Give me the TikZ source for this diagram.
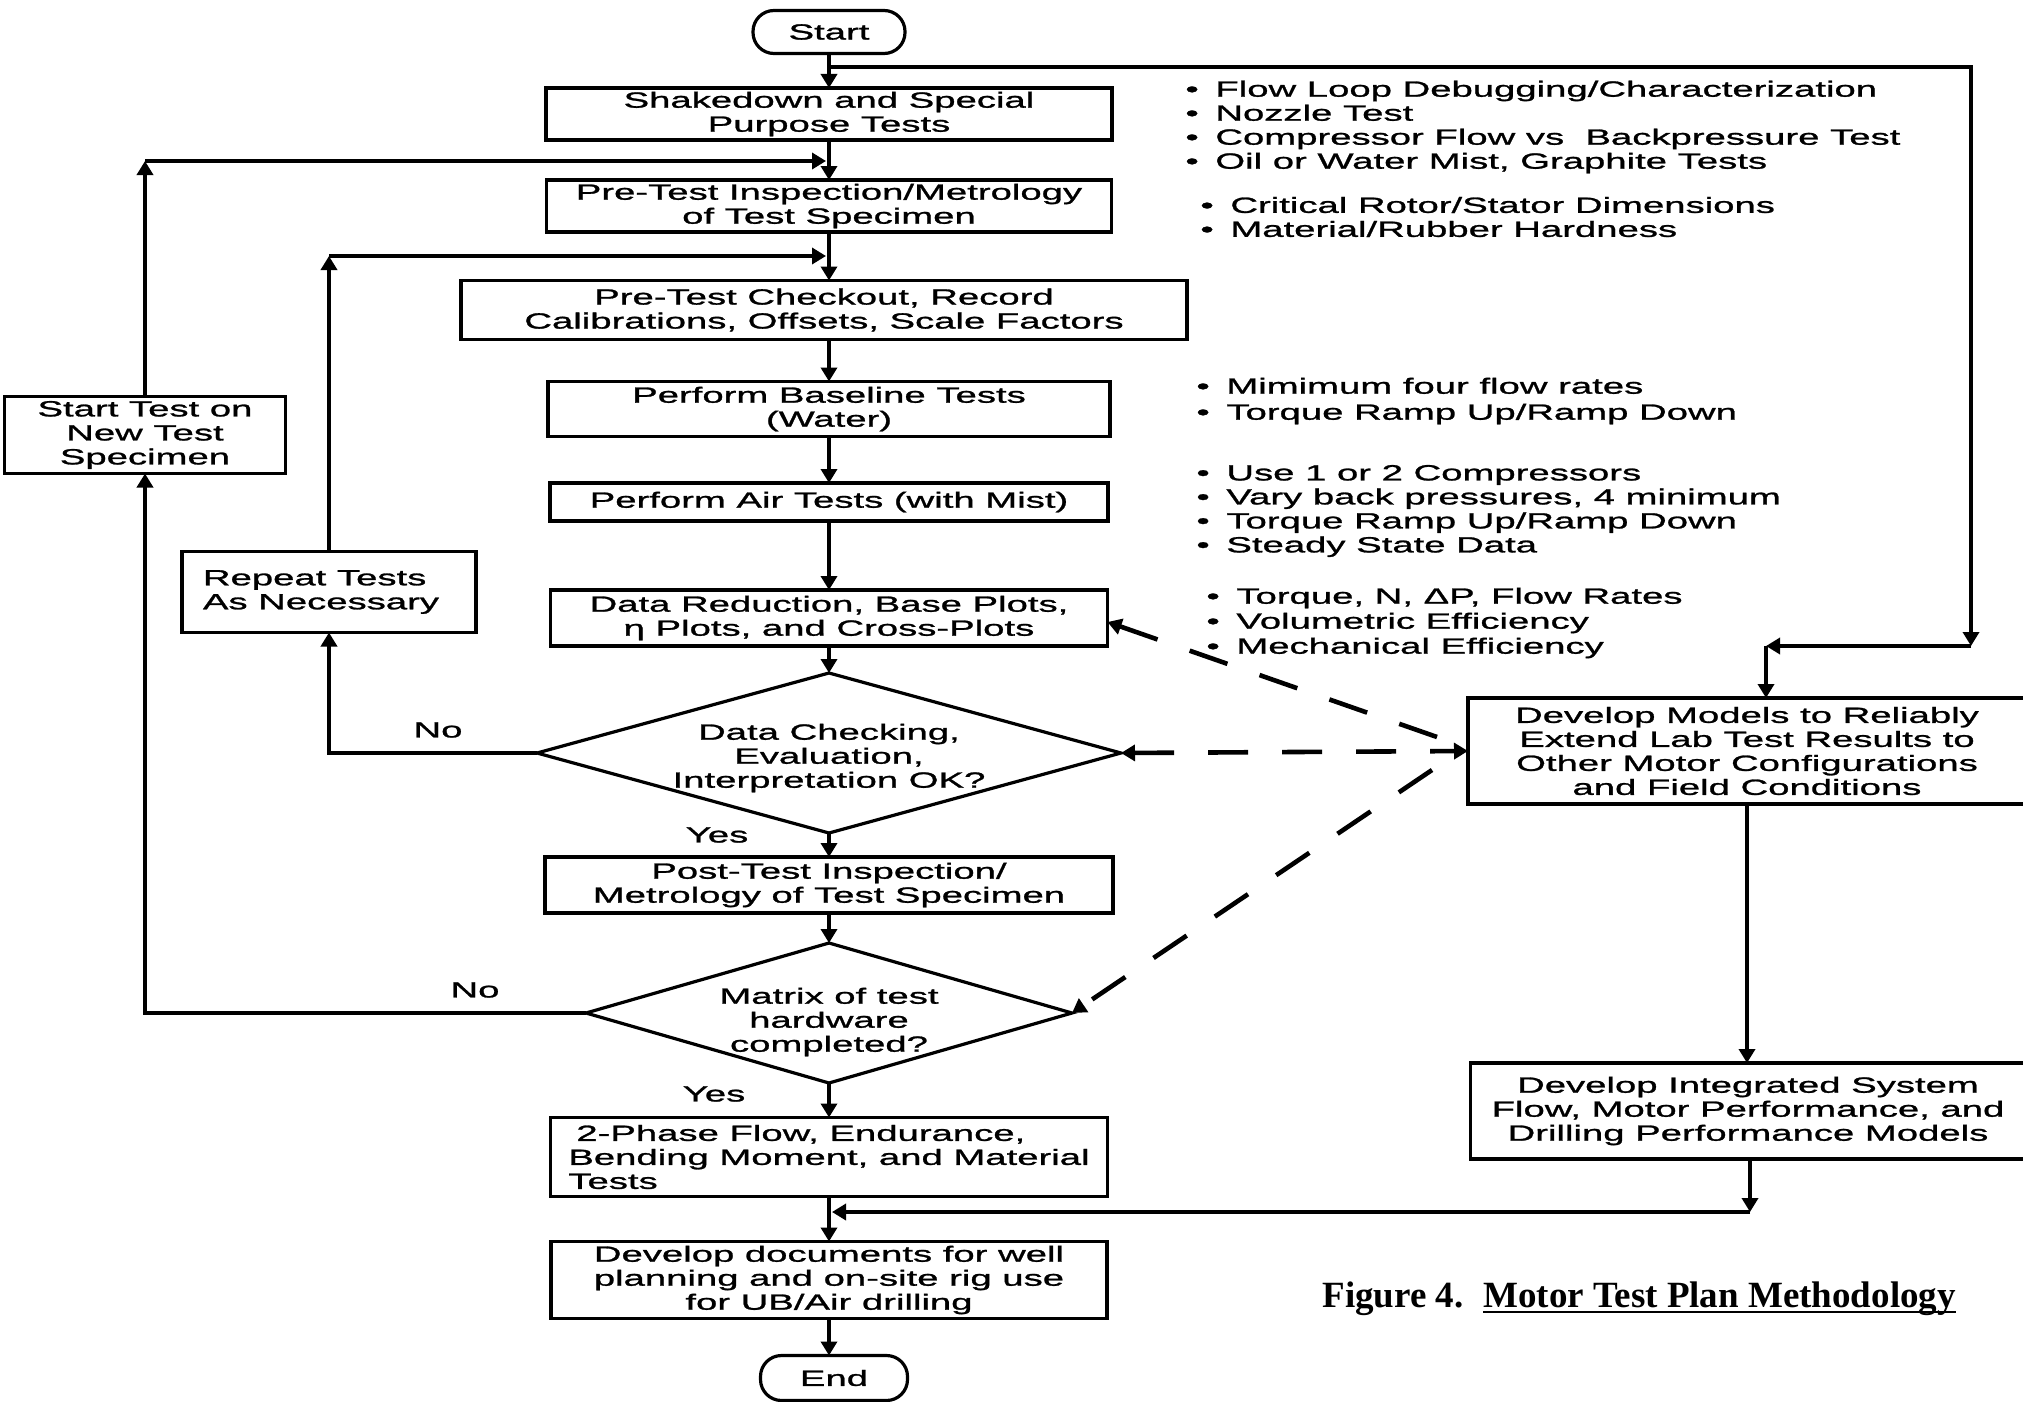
\documentclass[tikz,border=0pt]{standalone}
\usepackage{fontspec}
\setmainfont{Liberation Sans}[FakeStretch=1.74,FakeBold=1.2]
\newfontfamily\capfont{Liberation Serif}
\usetikzlibrary{shapes.geometric,arrows.meta}
\newcommand\bl[1]{\makebox[15pt][l]{•}#1}
\tikzset{
  txt/.style={font=\fontsize{11}{12}\selectfont},
  box/.style={txt, draw, line width=1.6pt, inner sep=0pt, outer sep=0pt, align=center},
  term/.style={box, rounded corners=10.5pt},
  dia/.style={draw, diamond, line width=1.6pt, inner sep=0pt, outer sep=0pt},
  tip/.tip={Triangle[width=8pt,length=7pt]},
  flow/.style={line width=2.1pt, -tip},
  dashline/.style={line width=2.3pt, dash pattern=on 20pt off 17pt},
  lbl/.style={txt, inner sep=0pt},
  bul/.style={txt, anchor=west, align=left, inner sep=0pt},
}
\begin{document}
\begin{tikzpicture}[x=0.5pt, y=-0.5pt]
\clip (0,0) rectangle (2023,1402);
\fill[white] (0,0) rectangle (2023,1402);

% main column
\node[term, minimum width=76pt, minimum height=21.5pt] (start) at (829,32) {Start};
\node[box, minimum width=283pt, minimum height=26pt] (shake) at (829,114) {Shakedown and Special\\Purpose Tests};
\node[box, minimum width=282.5pt, minimum height=26pt] (preinsp) at (829,206) {Pre-Test Inspection/Metrology\\of Test Specimen};
\node[box, minimum width=363pt, minimum height=29.5pt] (checkout) at (824,310) {Pre-Test Checkout, Record\\Calibrations, Offsets, Scale Factors};
\node[box, minimum width=281pt, minimum height=27.5pt] (baseline) at (829,409) {Perform Baseline Tests\\(Water)};
\node[box, minimum width=279pt, minimum height=19pt] (air) at (829,502) {Perform Air Tests (with Mist)};
\node[box, minimum width=278.5pt, minimum height=28pt] (datared) at (829,618) {Data Reduction, Base Plots,\\η Plots, and Cross-Plots};
\node[dia, minimum width=292pt, minimum height=80pt] (d1) at (829,753) {};
\node[lbl, align=center] (d1t) at (829,758) {Data Checking,\\Evaluation,\\Interpretation OK?};
\node[box, minimum width=284pt, minimum height=28pt] (postt) at (829,885) {Post-Test Inspection/\\Metrology of Test Specimen};
\node[dia, minimum width=243pt, minimum height=70pt] (d2) at (829,1013) {};
\node[lbl, align=center] (d2t) at (829,1022) {Matrix of test\\hardware\\completed?};
\node[box, minimum width=278.5pt, minimum height=39.5pt, align=left] (phase) at (829,1157) {\hspace*{4pt}2-Phase Flow, Endurance,\\Bending Moment, and Material\\Tests\hspace*{200pt}};
\node[box, minimum width=278pt, minimum height=38.5pt] (docs) at (829,1280) {Develop documents for well\\planning and on-site rig use\\for UB/Air drilling};
\node[term, minimum width=73.5pt, minimum height=22.5pt] (end) at (834,1378) {End};

% left boxes
\node[box, minimum width=140.5pt, minimum height=38.5pt] (stt) at (145,435) {Start Test on\\New Test\\Specimen};
\node[box, minimum width=147pt, minimum height=40.5pt, align=left] (rep) at (329,592) {Repeat Tests\\As Necessary\hspace*{8pt}};

% right boxes
\node[box, minimum width=279pt, minimum height=53pt] (dm) at (1747,751) {Develop Models to Reliably\\Extend Lab Test Results to\\Other Motor Configurations\\and Field Conditions};
\node[box, minimum width=277.5pt, minimum height=48pt] (integ) at (1748,1111) {Develop Integrated System\\Flow, Motor Performance, and\\Drilling Performance Models};

% main flow
\draw[flow] (start) -- (shake);
\draw[flow] (shake) -- (preinsp);
\draw[flow] (preinsp.south) -- (preinsp.south |- checkout.north);
\draw[flow] (checkout.south -| baseline.north) -- (baseline.north);
\draw[flow] (baseline) -- (air);
\draw[flow] (air) -- (datared);
\draw[flow] (datared) -- (d1);
\draw[flow] (d1) -- (postt);
\draw[flow] (postt) -- (d2);
\draw[flow] (d2) -- (phase);
\draw[flow] (phase) -- (docs);
\draw[flow] (docs.south) -- (docs.south |- end.north);

% right path
\coordinate (br) at (829,67);
\coordinate (rtop) at (1971,67);
\coordinate (rcorner) at (1971,646);
\coordinate (rleft) at (1766,646);
\draw[flow] (br) -- (rtop) -- (rcorner);
\draw[flow] (rcorner) -- (rleft);
\draw[flow] (rleft) -- (rleft |- dm.north);
\draw[flow] (dm.south) -- (dm.south |- integ.north);
\coordinate (bcorner) at (1750,1212);
\coordinate (bjoin) at (832,1212);
\draw[flow] (integ.south -| bcorner) -- (bcorner);
\draw[flow] (bcorner) -- (bjoin);

% left loops
\coordinate (l1) at (145,161);
\coordinate (l1e) at (826,161);
\draw[flow] (stt.north) -- (l1);
\draw[flow] (l1) -- (l1e);
\coordinate (l2) at (329,256);
\coordinate (l2e) at (826,256);
\draw[flow] (rep.north) -- (l2);
\draw[flow] (l2) -- (l2e);
\draw[flow] (d1.west) -- (d1.west -| rep.south) -- (rep.south);
\draw[flow] (d2.west) -- (d2.west -| stt.south) -- (stt.south);

% labels
\node[lbl] (no1) at (438,730) {No};
\node[lbl] (yes1) at (717,835) {Yes};
\node[lbl] (no2) at (475,990) {No};
\node[lbl] (yes2) at (714,1094) {Yes};

% dashed links
\coordinate (da1) at (1437,737);
\coordinate (da3) at (1432,770);
\draw[dashline, -tip] (da1) -- ([yshift=-2pt]datared.east);
\draw[dashline, tip-tip] (d1.east) -- (dm.west);
\draw[dashline, -tip] (da3) -- (d2.east);

% bullet lists
\node[bul] (b1) at (1185,127) {\bl{Flow Loop Debugging/Characterization}\\\bl{Nozzle Test}\\\bl{Compressor Flow vs\ \ Backpressure Test}\\\bl{Oil or Water Mist, Graphite Tests}};
\node[bul] (b2) at (1200,217) {\bl{Critical Rotor/Stator Dimensions}\\\bl{Material/Rubber Hardness}};
\node[bul, font=\fontsize{11}{13}\selectfont] (b3) at (1196,401) {\bl{Mimimum four flow rates}\\\bl{Torque Ramp Up/Ramp Down}};
\node[bul] (b4) at (1196,511) {\bl{Use 1 or 2 Compressors}\\\bl{Vary back pressures, 4 minimum}\\\bl{Torque Ramp Up/Ramp Down}\\\bl{Steady State Data}};
\node[bul, font=\fontsize{11}{12.5}\selectfont] (b5) at (1206,623) {\bl{Torque, N, ΔP, Flow Rates}\\\bl{Volumetric Efficiency}\\\bl{Mechanical Efficiency}};

% caption
\node[anchor=base west, inner sep=0pt, font=\capfont\bfseries\fontsize{18.5}{22}\selectfont] (cap1) at (1322,1307) {Figure 4.};
\node[anchor=base west, inner sep=0pt, font=\capfont\bfseries\fontsize{18.5}{22}\selectfont] (cap2) at (1483,1307) {Motor Test Plan Methodology};
\draw[line width=1.4pt] ([yshift=-2.5pt]cap2.base west) -- ([yshift=-2.5pt]cap2.base east);
\end{tikzpicture}
\end{document}
